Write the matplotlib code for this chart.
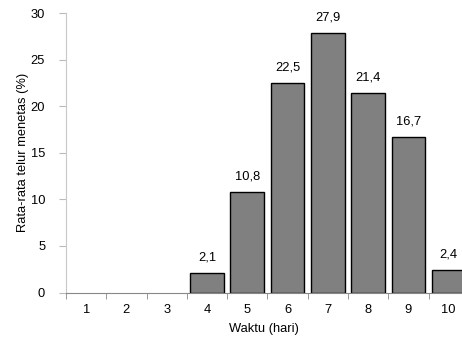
import matplotlib
matplotlib.use("Agg")
import matplotlib.pyplot as plt

days = [1, 2, 3, 4, 5, 6, 7, 8, 9, 10]
values = [0, 0, 0, 2.1, 10.8, 22.5, 27.9, 21.4, 16.7, 2.4]
labels = ["", "", "", "2,1", "10,8", "22,5", "27,9", "21,4", "16,7", "2,4"]
yticks = [0, 5, 10, 15, 20, 25, 30]

FS = 9.3
plt.rcParams['font.family'] = ['Liberation Sans', 'DejaVu Sans']
fig = plt.figure(figsize=(4.62, 3.42), dpi=100)
ax = fig.add_axes([66/462, (342-292.5)/342, (462-66)/462, (292.5-13)/342])

edges = ['black' if v > 0 else 'none' for v in values]
ax.bar(days, values, width=0.84, color='#808080', edgecolor=edges, linewidth=1.0)
for d, v, l in zip(days, values, labels):
    if l:
        ax.text(d, v + 1.0, l, ha='center', va='bottom', fontsize=FS)

ax.set_xlim(0.5, 10.33)
ax.set_ylim(0, 30)
ax.set_yticks(yticks)
ax.set_yticklabels([str(t) for t in yticks], fontsize=FS)
ax.set_xticks(days)
ax.set_xticklabels([str(d) for d in days], fontsize=FS)
ax.tick_params(axis='x', which='major', length=0, pad=8)
ax.set_xticks([d + 0.5 for d in days[:-1]] + [0.5], minor=True)
ax.tick_params(axis='x', which='minor', length=4, color='#888888', direction='out')
ax.tick_params(axis='y', length=5, color='#bbbbbb', pad=10)

for s in ['top', 'right']:
    ax.spines[s].set_visible(False)
ax.spines['left'].set_color('#c8c8c8')
ax.spines['bottom'].set_color('#888888')

ax.set_ylabel('Rata-rata telur menetas (%)', fontsize=FS, labelpad=1)
ax.set_xlabel('Waktu (hari)', fontsize=FS, labelpad=5)

fig.savefig('out.png', dpi=100)
